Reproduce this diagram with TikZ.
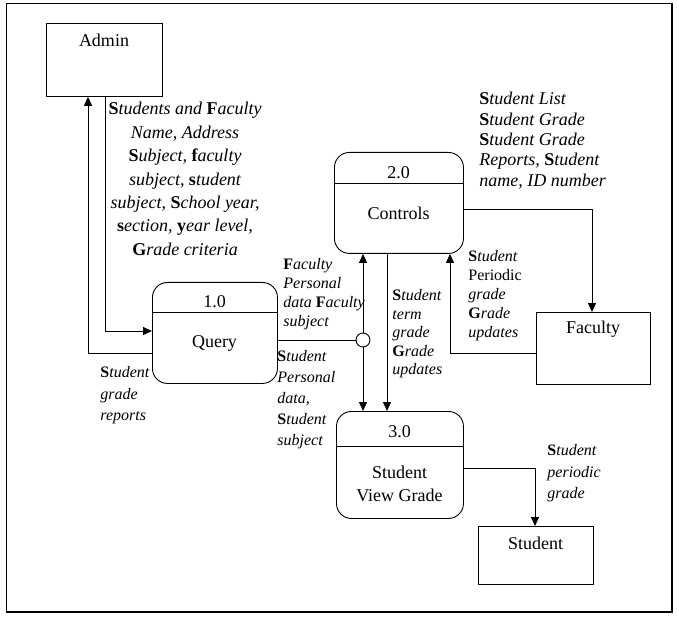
\documentclass[tikz,border=0pt]{standalone}
\usepackage{fontspec}
\setmainfont{Liberation Serif}
\usetikzlibrary{arrows.meta}
\newcommand\bl[1]{{\upshape\bfseries #1}}
\begin{document}
\begin{tikzpicture}[x=1pt,y=-1pt,
  line width=0.9pt,
  arr/.style={-{Triangle[length=9pt,width=8pt]}},
  entity/.style={draw,rectangle,inner sep=0,anchor=north west},
  proc/.style={draw,rectangle,rounded corners=15pt,inner sep=0,anchor=north west},
  ntext/.style={font=\fontsize{18}{22}\selectfont,inner sep=0,align=center},
  lbl/.style={font=\fontsize{16}{19}\selectfont\itshape,inner sep=0,anchor=north west,align=left}]
\useasboundingbox (0,0) rectangle (679,617);
\draw[line width=1.3pt] (6.5,3.5) rectangle (672,612);
% entities
\node[entity,minimum width=116pt,minimum height=73pt] (adm) at (46,23) {};
\node[ntext] (admt) at (104,40) {Admin};
\node[entity,minimum width=114pt,minimum height=72pt] (fac) at (536,312) {};
\node[ntext] (fact) at (593,329) {Faculty};
\node[entity,minimum width=115pt,minimum height=58pt] (stu) at (478,526) {};
\node[ntext] (stut) at (535.5,543) {Student};
% processes
\node[proc,minimum width=125pt,minimum height=101pt] (q) at (152,282) {};
\draw (q.west |- 0,312) -- (q.east |- 0,312);
\node[ntext] (qn) at (214.5,302) {1.0};
\node[ntext] (qt) at (214.5,343) {Query};
\node[proc,minimum width=129pt,minimum height=101pt] (c) at (334,152) {};
\draw (c.west |- 0,183) -- (c.east |- 0,183);
\node[ntext] (cn) at (398.5,173) {2.0};
\node[ntext] (ct) at (398.5,213) {Controls};
\node[proc,minimum width=127pt,minimum height=107pt] (v) at (336,411) {};
\draw (v.west |- 0,446) -- (v.east |- 0,446);
\node[ntext] (vn) at (399.5,432) {3.0};
\node[ntext,font=\fontsize{18}{23}\selectfont] (vt) at (399.5,483.5) {Student\\View Grade};
% junction circle
\node[draw,circle,minimum size=14pt,inner sep=0] (j) at (363,340) {};
% connectors
\draw[arr] (q.west |- 0,353) -- (88,353) -- (adm.south -| 88,0);
\draw[arr] (adm.south -| 105,0) -- (105,331) -- (q.west |- 0,331);
\draw (q.east |- j) -- (j.west);
\draw[arr] (j.north) -- (c.south -| j);
\draw[arr] (j.south) -- (v.north -| j);
\draw[arr] (c.south -| 387,0) -- (v.north -| 387,0);
\draw[arr] (c.east |- 0,209) -- (592,209) -- (fac.north -| 592,0);
\draw[arr] (fac.west |- 0,353) -- (450,353) -- (c.south -| 450,0);
\draw[arr] (v.east |- 0,468) -- (535,468) -- (stu.north -| 535,0);
% labels
\node[lbl,anchor=north,align=center,font=\fontsize{18}{23.4}\selectfont\itshape] (l1) at (185,102)
 {\bl{S}tudents and \bl{F}aculty\\ Name, Address\\ \bl{S}ubject, \bl{f}aculty\\ subject, \bl{s}tudent\\ subject, \bl{S}chool year,\\ \bl{s}ection, \bl{y}ear level,\\ \bl{G}rade criteria};
\node[lbl,font=\fontsize{18}{20.3}\selectfont\itshape] (l2) at (479,92)
 {\bl{S}tudent List\\ \bl{S}tudent Grade\\ \bl{S}tudent Grade\\ Reports, \bl{S}tudent\\ name, ID number};
\node[lbl] (l3) at (283,258) {\bl{F}aculty\\ Personal\\ data \bl{F}aculty\\ subject};
\node[lbl,font=\fontsize{16}{21}\selectfont\itshape] (l4) at (277,350) {\bl{S}tudent\\ Personal\\ data,\\ \bl{S}tudent\\ subject};
\node[lbl,font=\fontsize{16}{18.5}\selectfont\itshape] (l5) at (392,289) {\bl{S}tudent\\ term\\ grade\\ \bl{G}rade\\ updates};
\node[lbl] (l6) at (468,250) {\bl{S}tudent\\ {\upshape Periodic}\\ grade\\ \bl{G}rade\\ updates};
\node[lbl,font=\fontsize{16}{21.5}\selectfont\itshape] (l7) at (100,366) {\bl{S}tudent\\ grade\\ reports};
\node[lbl,font=\fontsize{16}{21.5}\selectfont\itshape] (l8) at (547,444) {\bl{S}tudent\\ periodic\\ grade};
\end{tikzpicture}
\end{document}
